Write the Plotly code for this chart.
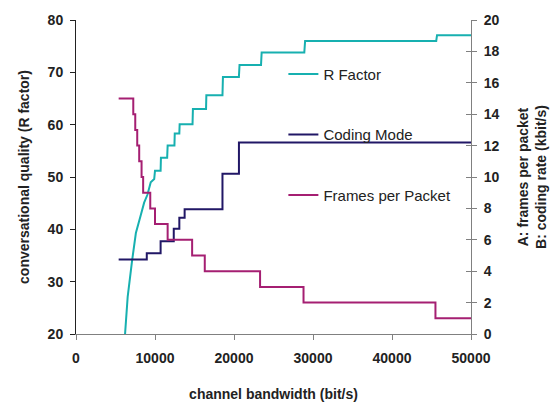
import plotly.graph_objects as go

# ---- data ----
bw_r = [6210, 6540, 7080, 7580, 8125, 8625, 9040, 9460, 9900, 10000, 10710, 10750,
        11540, 11600, 12460, 12500, 13080, 13120, 14750, 14800, 16460, 16500,
        18540, 18600, 20620, 20700, 23420, 23500, 28900, 29000, 45600, 45700, 50000]
r_factor = [20, 27.1, 33.8, 39.3, 42.3, 45.1, 46.6, 49.0, 49.6, 51.2, 51.2, 53.7,
            53.7, 56.0, 56.0, 58.3, 58.3, 60.1, 60.1, 63.0, 63.0, 65.6,
            65.6, 69.1, 69.1, 71.4, 71.4, 73.8, 73.8, 76.0, 76.0, 77.1, 77.1]

bw_mode = [5400, 8960, 10710, 12375, 13080, 13750, 18540, 20625, 50000]
coding_rate = [4.75, 5.15, 5.9, 6.7, 7.4, 7.95, 10.2, 12.2, 12.2]

bw_fpp = [5400, 7250, 7500, 7750, 8000, 8300, 8500, 9400, 10000, 11600, 14700,
          16300, 23300, 28800, 45500, 50000]
frames_per_packet = [15, 14, 13, 12, 11, 10, 9, 8, 7, 6, 5, 4, 3, 2, 1, 1]

x_ticks = [0, 10000, 20000, 30000, 40000, 50000]

FONT = "Liberation Sans, Arial, sans-serif"
TEAL = "#17B0B0"
NAVY = "#211766"
MAGENTA = "#A51F72"

fig = go.Figure()
fig.add_trace(go.Scatter(x=bw_r, y=r_factor, mode="lines", name="R Factor",
                         line=dict(color=TEAL, width=2), legendgroup="a"))
fig.add_trace(go.Scatter(x=bw_mode, y=coding_rate, mode="lines", name="Coding Mode",
                         line=dict(color=NAVY, width=2, shape="hv"), yaxis="y2",
                         legendgroup="b"))
fig.add_trace(go.Scatter(x=bw_fpp, y=frames_per_packet, mode="lines",
                         name="Frames per Packet",
                         line=dict(color=MAGENTA, width=2, shape="hv"), yaxis="y2",
                         legendgroup="c"))
# invisible trace to draw inward ticks on right axis
fig.add_trace(go.Scatter(x=[None], y=[None], yaxis="y3", showlegend=False))

tickfont = dict(family=FONT, size=14, color="#222222", weight="bold")
titlefont = dict(family=FONT, size=14, color="#222222", weight="bold")

fig.update_layout(
    width=559, height=412,
    margin=dict(l=76, r=82, t=14, b=70),
    paper_bgcolor="white", plot_bgcolor="white",
    font=dict(family=FONT, size=14, color="#222222"),
    showlegend=True,
    legend=dict(x=0.525, y=0.88, xanchor="left", yanchor="top",
                traceorder="grouped", tracegroupgap=38,
                font=dict(family=FONT, size=15, color="#222222"),
                bgcolor="rgba(0,0,0,0)"),
    xaxis=dict(range=[0, 50000], tickvals=x_ticks, tickformat="d",
               showline=True, linecolor="#808080", linewidth=1,
               ticks="outside", ticklen=5, tickcolor="#808080",
               showgrid=False, zeroline=False, tickfont=tickfont,
               ticklabelstandoff=6,
               title=dict(text="channel bandwidth (bit/s)", font=titlefont, standoff=24)),
    yaxis=dict(range=[20, 80], dtick=10, showline=True, linecolor="#222222",
               linewidth=1, ticks="outside", ticklen=5, tickcolor="#222222",
               showgrid=False, zeroline=False, tickfont=tickfont,
               ticklabelstandoff=4,
               title=dict(text="conversational quality (R factor)", font=titlefont,
                          standoff=14)),
    yaxis2=dict(range=[0, 20], dtick=2, overlaying="y", side="right",
                showline=True, linecolor="#808080", linewidth=1,
                ticks="outside", ticklen=5, tickcolor="#808080",
                showgrid=False, zeroline=False, tickfont=tickfont,
                ticklabelstandoff=4,
                title=dict(text="A: frames per packet<br>B: coding rate (kbit/s)",
                           font=titlefont, standoff=19)),
    yaxis3=dict(range=[0, 20], dtick=2, overlaying="y", side="right",
                showline=False, ticks="inside", ticklen=5, tickcolor="#808080",
                showticklabels=False, showgrid=False, zeroline=False),
)

fig.write_html("out.html")
